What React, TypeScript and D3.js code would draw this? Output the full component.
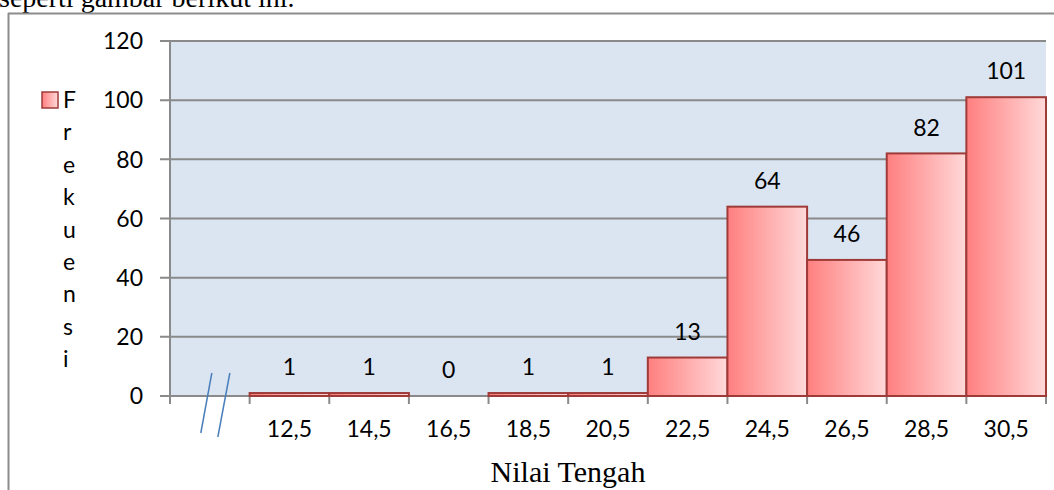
import React from "react";
import * as d3 from "d3";

const categories = ["", "12,5", "14,5", "16,5", "18,5", "20,5", "22,5", "24,5", "26,5", "28,5", "30,5"];
const frequencies = [null, 1, 1, 0, 1, 1, 13, 64, 46, 82, 101];
const yTicks = [0, 20, 40, 60, 80, 100, 120];
const legendLabel = "Frekuensi";
const xTitle = "Nilai Tengah";
const caption = "seperti gambar berikut ini.";

const W = 1054;
const H = 490;
const plot = { left: 170, right: 1046, top: 41, bottom: 396 };

export default function App() {
  const x = d3.scaleBand<string>().domain(categories).range([plot.left, plot.right]).padding(0);
  const y = d3.scaleLinear().domain([0, 120]).range([plot.bottom, plot.top]);
  const bw = x.bandwidth();
  const chartFont = "Lato, 'Open Sans', sans-serif";
  const fs = 23;
  const gridColor = "#8a8a8a";
  const breakX = (x(categories[0]) as number) + bw / 2;

  return (
    <svg width={W} height={H} style={{ position: "absolute", left: 0, top: 0, background: "#fff" }}>
      <defs>
        <linearGradient id="barGrad" x1="0" y1="0" x2="1" y2="0">
          <stop offset="0" stopColor="#ff7f7f" />
          <stop offset="1" stopColor="#ffd9d9" />
        </linearGradient>
      </defs>
      {/* caption text above */}
      <text x={-1} y={7} fontFamily="'Liberation Serif', 'Times New Roman', serif" fontSize={28} fill="#000">
        {caption}
      </text>
      {/* outer frame */}
      <line x1={8.5} y1={13} x2={8.5} y2={H} stroke="#8c8c8c" strokeWidth={2} />
      <line x1={8} y1={13.5} x2={W} y2={13.5} stroke="#8c8c8c" strokeWidth={2} />

      {/* plot background */}
      <rect x={plot.left} y={plot.top} width={plot.right - plot.left} height={plot.bottom - plot.top} fill="#dbe5f1" />
      {/* gridlines and y ticks */}
      {yTicks.map((t) => (
        <g key={t}>
          <line x1={plot.left - 10} x2={plot.right} y1={y(t)} y2={y(t)} stroke={gridColor} strokeWidth={2} />
          <text x={143} y={y(t)} dy="0.36em" textAnchor="end" fontFamily={chartFont} fontSize={fs} fill="#000">
            {t}
          </text>
        </g>
      ))}
      {/* y axis line */}
      <line x1={plot.left} x2={plot.left} y1={plot.top} y2={plot.bottom} stroke={gridColor} strokeWidth={2} />
      {/* x ticks */}
      {categories.map((c, i) => (
        <line
          key={"t" + i}
          x1={x(c) as number}
          x2={x(c) as number}
          y1={plot.bottom}
          y2={plot.bottom + 8}
          stroke={gridColor}
          strokeWidth={2}
        />
      ))}
      <line x1={plot.right} x2={plot.right} y1={plot.bottom} y2={plot.bottom + 8} stroke={gridColor} strokeWidth={2} />

      {/* bars */}
      {categories.map((c, i) => {
        const v = frequencies[i];
        if (v === null || v === 0) return null;
        const x0 = x(c) as number;
        return (
          <rect
            key={"b" + i}
            x={x0}
            y={y(v)}
            width={bw}
            height={y(0) - y(v)}
            fill="url(#barGrad)"
            stroke="#9e3a38"
            strokeWidth={2}
          />
        );
      })}
      {/* data labels */}
      {categories.map((c, i) => {
        const v = frequencies[i];
        if (v === null) return null;
        return (
          <text
            key={"l" + i}
            x={(x(c) as number) + bw / 2}
            y={y(v) - 26}
            dy="0.36em"
            textAnchor="middle"
            fontFamily={chartFont}
            fontSize={fs}
            fill="#000"
          >
            {v}
          </text>
        );
      })}
      {/* x labels */}
      {categories.map((c, i) => (
        <text
          key={"x" + i}
          x={(x(c) as number) + bw / 2}
          y={437}
          textAnchor="middle"
          fontFamily={chartFont}
          fontSize={fs}
          fill="#000"
        >
          {c}
        </text>
      ))}
      {/* axis break marks */}
      <line x1={breakX + 2} y1={373} x2={breakX - 9} y2={433} stroke="#4a7ebb" strokeWidth={1.5} />
      <line x1={breakX + 20} y1={373} x2={breakX + 8} y2={437} stroke="#4a7ebb" strokeWidth={1.5} />

      {/* x title */}
      <text x={568} y={482} textAnchor="middle" fontFamily="'Liberation Serif', 'Times New Roman', serif" fontSize={30} fill="#000">
        {xTitle}
      </text>

      {/* legend */}
      <rect x={42} y={92} width={16} height={16} fill="url(#barGrad)" stroke="#9e3a38" strokeWidth={1.5} />
      {legendLabel.split("").map((ch, i) => (
        <text key={"g" + i} x={63} y={108 + i * 32.4} fontFamily={chartFont} fontSize={fs} fill="#000">
          {ch}
        </text>
      ))}
    </svg>
  );
}
